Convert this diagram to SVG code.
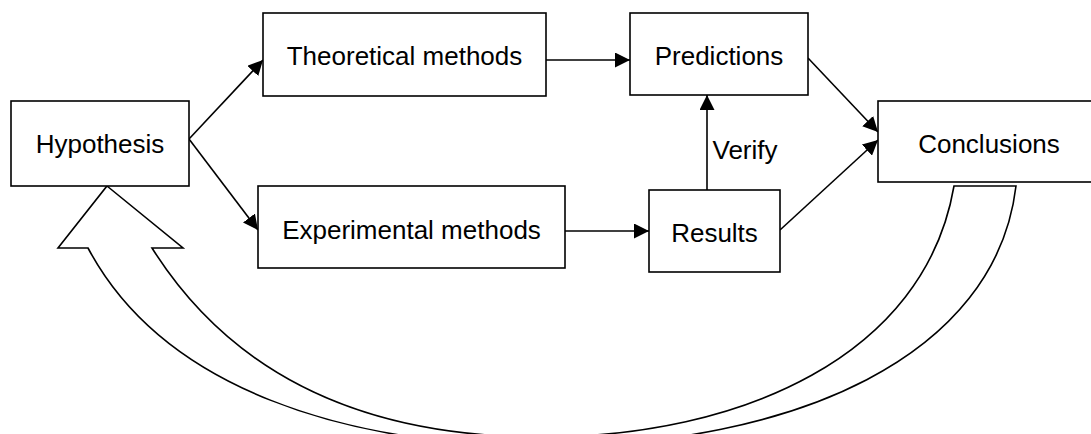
<svg xmlns="http://www.w3.org/2000/svg" width="1091" height="434" viewBox="0 0 1091 434">
<style>
.box{fill:#fff;stroke:#000;stroke-width:1.6}
.t{font-family:"Liberation Sans",Arial,sans-serif;font-size:26px;fill:#000;text-anchor:middle}
.c{fill:none;stroke:#000;stroke-width:1.6}
</style>
<defs>
<marker id="ah" markerUnits="userSpaceOnUse" markerWidth="15" markerHeight="15" refX="15" refY="7.5" orient="auto">
<path d="M0,0 L15,7.5 L0,15 Z" fill="#000"/>
</marker>
</defs>
<rect width="1091" height="434" fill="#fff"/>
<g id="feedback-arrow">
<path class="c" fill="#fff" d="M107,186 L183,248 L152,248 C232,375 361,437 541,437 C741,437 925,356 954,186 L1016,186 C996,356 795,446 545,446 C345,446 163,389 88,248 L58,248 Z"/>
</g>
<g id="connectors">
<line class="c" x1="189" y1="139" x2="263" y2="60" marker-end="url(#ah)"/>
<line class="c" x1="189" y1="139" x2="258" y2="230" marker-end="url(#ah)"/>
<line class="c" x1="546" y1="60" x2="630" y2="60" marker-end="url(#ah)"/>
<line class="c" x1="565" y1="231" x2="649" y2="231" marker-end="url(#ah)"/>
<line class="c" x1="707" y1="190" x2="707" y2="95" marker-end="url(#ah)"/>
<line class="c" x1="808" y1="58" x2="878" y2="132" marker-end="url(#ah)"/>
<line class="c" x1="780" y1="230" x2="878" y2="140" marker-end="url(#ah)"/>
<text class="t" x="712.5" y="159" style="text-anchor:start">Verify</text>
</g>
<g id="hypothesis">
<rect class="box" x="11" y="101" width="178" height="85"/>
<text class="t" x="100" y="152.5">Hypothesis</text>
</g>
<g id="theoretical">
<rect class="box" x="263" y="13" width="283" height="83"/>
<text class="t" x="404.5" y="65">Theoretical methods</text>
</g>
<g id="experimental">
<rect class="box" x="258" y="186" width="307" height="82"/>
<text class="t" x="411.5" y="239">Experimental methods</text>
</g>
<g id="predictions">
<rect class="box" x="630" y="13" width="178" height="82"/>
<text class="t" x="719" y="65">Predictions</text>
</g>
<g id="results">
<rect class="box" x="649" y="190" width="131" height="82"/>
<text class="t" x="714.5" y="241.5">Results</text>
</g>
<g id="conclusions">
<rect class="box" x="878" y="101" width="222" height="81"/>
<text class="t" x="989" y="153">Conclusions</text>
</g>
</svg>
